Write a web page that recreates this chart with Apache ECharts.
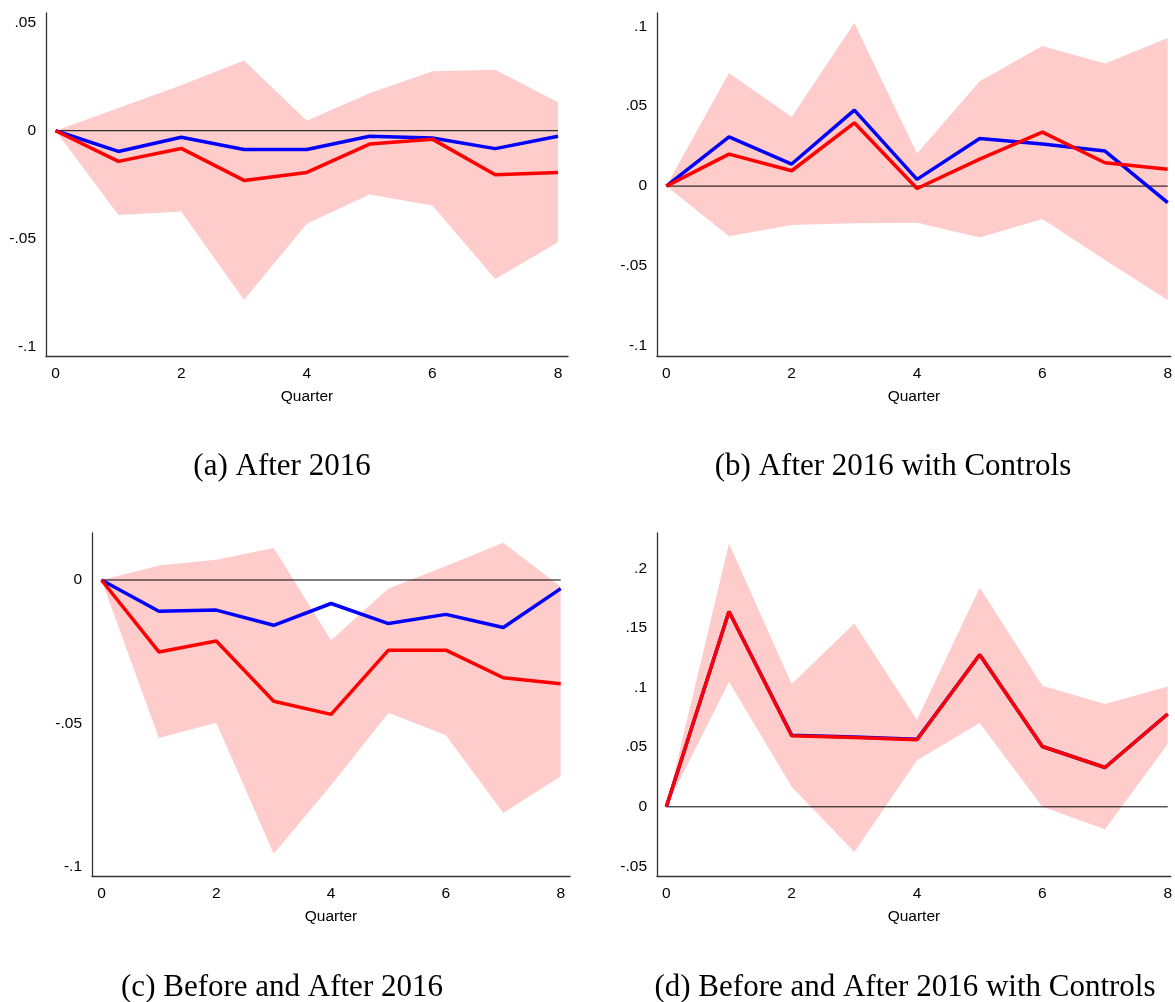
<!DOCTYPE html>
<html>
<head>
<meta charset="utf-8">
<script src="https://cdn.jsdelivr.net/npm/echarts@6/dist/echarts.min.js"></script>
<style>
  html, body { margin: 0; padding: 0; background: #fff; }
  #chart { width: 1175px; height: 1002px; }
</style>
</head>
<body>
<div id="chart"></div>
<script>
// ---------------- DATA ----------------
const quarters = [0, 1, 2, 3, 4, 5, 6, 7, 8];
const xTicks = [0, 2, 4, 6, 8];

// (a) After 2016
const aBlue  = [0, -0.0096, -0.0030, -0.0087, -0.0087, -0.0026, -0.0034, -0.0083, -0.0026];
const aRed   = [0, -0.0142, -0.0082, -0.0230, -0.0193, -0.0062, -0.0039, -0.0204, -0.0193];
const aUpper = [0, 0.0105, 0.0210, 0.0325, 0.0046, 0.0174, 0.0275, 0.0282, 0.0132];
const aLower = [0, -0.0390, -0.0374, -0.0782, -0.0431, -0.0295, -0.0346, -0.0687, -0.0516];
const aYTicks = [-0.1, -0.05, 0, 0.05];

// (b) After 2016 with Controls
const bBlue  = [0, 0.0308, 0.0138, 0.0475, 0.0042, 0.0298, 0.0263, 0.0219, -0.0104];
const bRed   = [0, 0.0200, 0.0096, 0.0396, -0.0015, 0.0169, 0.0338, 0.0146, 0.0106];
const bUpper = [0, 0.0708, 0.0433, 0.1021, 0.0204, 0.0656, 0.0877, 0.0767, 0.0927];
const bLower = [0, -0.0313, -0.0244, -0.0233, -0.0229, -0.0321, -0.0206, -0.0463, -0.0713];
const bYTicks = [-0.1, -0.05, 0, 0.05, 0.1];

// (c) Before and After 2016
const cBlue  = [0, -0.0109, -0.0105, -0.0158, -0.0082, -0.0152, -0.0120, -0.0166, -0.0030];
const cRed   = [0, -0.0251, -0.0213, -0.0423, -0.0469, -0.0245, -0.0245, -0.0341, -0.0362];
const cUpper = [0, 0.0051, 0.0071, 0.0112, -0.0210, -0.0030, 0.0049, 0.0130, -0.0024];
const cLower = [0, -0.0551, -0.0498, -0.0955, -0.0716, -0.0463, -0.0542, -0.0813, -0.0685];
const cYTicks = [-0.1, -0.05, 0];

// (d) Before and After 2016 with Controls
const dBlue  = [0, 0.1638, 0.0601, 0.0586, 0.0566, 0.1275, 0.0506, 0.0330, 0.0778];
const dRed   = [0, 0.1638, 0.0596, 0.0581, 0.0562, 0.1275, 0.0506, 0.0330, 0.0778];
const dUpper = [0, 0.2209, 0.1029, 0.1538, 0.0730, 0.1840, 0.1015, 0.0862, 0.1009];
const dLower = [0, 0.1049, 0.0168, -0.0378, 0.0391, 0.0702, 0, -0.0187, 0.0526];
const dYTicks = [-0.05, 0, 0.05, 0.1, 0.15, 0.2];

const xName = 'Quarter';
const captions = [
  '(a) After 2016',
  '(b) After 2016 with Controls',
  '(c) Before and After 2016',
  '(d) Before and After 2016 with Controls'
];

// ---------------- LAYOUT / STYLE ----------------
const panels = [
  { blue: aBlue, red: aRed, upper: aUpper, lower: aLower, yTicks: aYTicks,
    grid: { left: 46, top: 13, width: 522, height: 343 },
    xMin: -0.153, xMax: 8.159, yMin: -0.1043, yMax: 0.0545,
    cap: { x: 282, y: 467 } },
  { blue: bBlue, red: bRed, upper: bUpper, lower: bLower, yTicks: bYTicks,
    grid: { left: 657, top: 13, width: 518, height: 343 },
    xMin: -0.149, xMax: 8.05, yMin: -0.1063, yMax: 0.1083,
    cap: { x: 893, y: 467 } },
  { blue: cBlue, red: cRed, upper: cUpper, lower: cLower, yTicks: cYTicks,
    grid: { left: 92, top: 533, width: 478, height: 343 },
    xMin: -0.165, xMax: 8.162, yMin: -0.1033, yMax: 0.0164,
    cap: { x: 282, y: 988 } },
  { blue: dBlue, red: dRed, upper: dUpper, lower: dLower, yTicks: dYTicks,
    grid: { left: 657, top: 533, width: 518, height: 343 },
    xMin: -0.149, xMax: 8.05, yMin: -0.058, yMax: 0.2296,
    cap: { x: 905, y: 988 } }
];

const labelFont = 'Liberation Sans, Arial, Helvetica, sans-serif';
const fmt = v => {
  if (Math.abs(v) < 1e-12) return '0';
  const s = String(+v.toFixed(4));
  return s.replace('0.', '.');
};

const grids = [], xAxes = [], yAxes = [], series = [], graphics = [];

panels.forEach((p, i) => {
  grids.push(Object.assign({ containLabel: false }, p.grid));
  xAxes.push({
    type: 'value', gridIndex: i, min: p.xMin, max: p.xMax,
    name: xName, nameLocation: 'middle', nameGap: 33,
    nameTextStyle: { color: '#000', fontFamily: labelFont, fontSize: 15.5 },
    axisLine: { show: true, onZero: false, lineStyle: { color: '#333', width: 1.3 } },
    axisTick: { show: false, customValues: xTicks },
    splitLine: { show: false },
    axisLabel: { customValues: xTicks, color: '#000', fontFamily: labelFont, fontSize: 15.5, margin: 10,
                 formatter: v => String(v) }
  });
  yAxes.push({
    type: 'value', gridIndex: i, min: p.yMin, max: p.yMax,
    axisLine: { show: true, onZero: false, lineStyle: { color: '#333', width: 1.3 } },
    axisTick: { show: false, customValues: p.yTicks },
    splitLine: { show: false },
    axisLabel: { customValues: p.yTicks, color: '#000', fontFamily: labelFont, fontSize: 15.5, margin: 10,
                 formatter: fmt }
  });

  const lower = p.lower, upper = p.upper;
  // confidence band polygon
  series.push({
    type: 'custom', xAxisIndex: i, yAxisIndex: i, silent: true,
    encode: { x: 0, y: 1 },
    data: quarters.map((q, k) => [q, lower[k], upper[k]]),
    renderItem: (params, api) => {
      if (params.dataIndex !== 0) return null;
      const pts = [];
      quarters.forEach((q, k) => pts.push(api.coord([q, upper[k]])));
      for (let k = quarters.length - 1; k >= 0; k--) pts.push(api.coord([quarters[k], lower[k]]));
      return { type: 'polygon', shape: { points: pts }, style: { fill: 'rgb(255,204,204)' } };
    },
    z: 1
  });
  // zero line
  series.push({
    type: 'line', xAxisIndex: i, yAxisIndex: i, silent: true, showSymbol: false,
    data: [[quarters[0], 0], [quarters[quarters.length - 1], 0]],
    lineStyle: { color: '#000', width: 1 }, z: 2, animation: false
  });
  series.push({
    type: 'line', xAxisIndex: i, yAxisIndex: i, silent: true, showSymbol: false,
    data: quarters.map((q, k) => [q, p.blue[k]]),
    lineStyle: { color: '#0000ff', width: 3.5 }, z: 3, animation: false
  });
  series.push({
    type: 'line', xAxisIndex: i, yAxisIndex: i, silent: true, showSymbol: false,
    data: quarters.map((q, k) => [q, p.red[k]]),
    lineStyle: { color: '#ff0000', width: 3.5 }, z: 4, animation: false
  });

  graphics.push({
    type: 'text', x: p.cap.x, y: p.cap.y,
    style: { text: captions[i], fill: '#000', font: '31px "Liberation Serif", "Times New Roman", serif',
             align: 'center', verticalAlign: 'middle' }
  });
});

const chart = echarts.init(document.getElementById('chart'), null, { renderer: 'canvas' });
chart.setOption({
  animation: false,
  backgroundColor: '#fff',
  grid: grids,
  xAxis: xAxes,
  yAxis: yAxes,
  series: series,
  graphic: graphics
});
</script>
</body>
</html>
